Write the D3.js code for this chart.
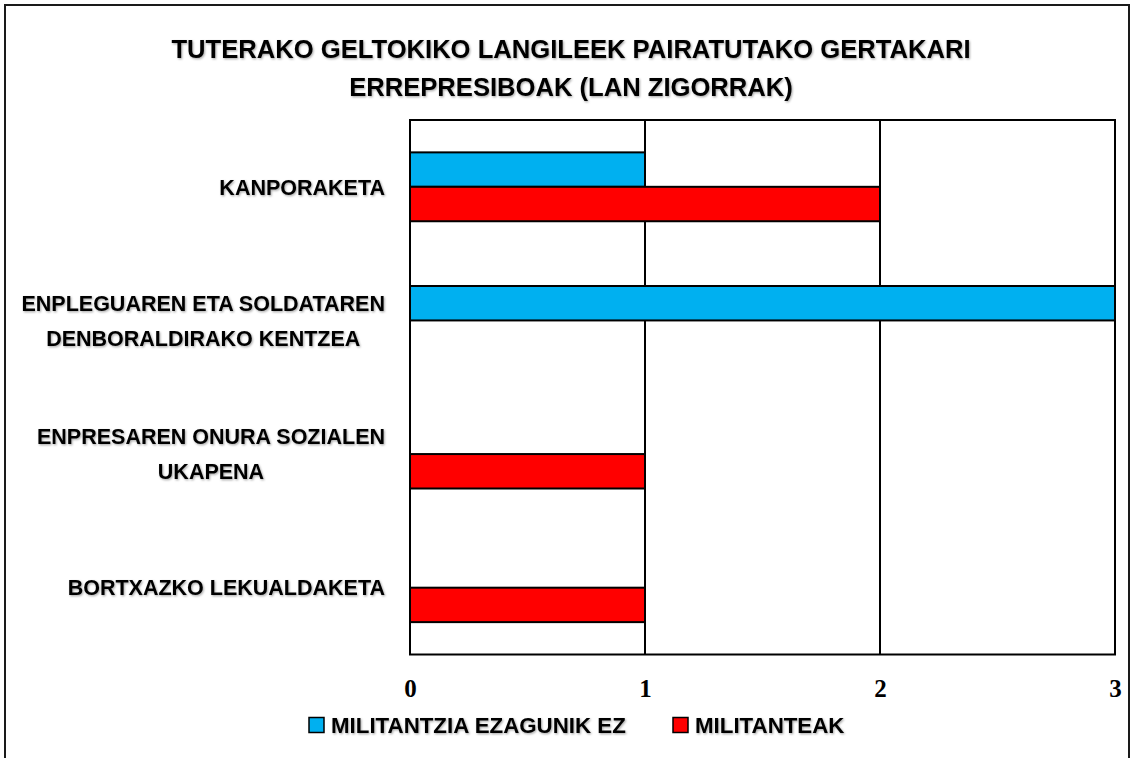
<!DOCTYPE html>
<html>
<head>
<meta charset="utf-8">
<script src="https://cdn.jsdelivr.net/npm/d3@7"></script>
<style>
  body { margin: 0; background: #fff; }
  svg { display: block; }
</style>
</head>
<body>
<div id="chart-wrapper"></div>
<script>
// data
var categories = ['KANPORAKETA',
                  'ENPLEGUAREN ETA SOLDATAREN DENBORALDIRAKO KENTZEA',
                  'ENPRESAREN ONURA SOZIALEN UKAPENA',
                  'BORTXAZKO LEKUALDAKETA'];
// how each category label is broken into lines
var category_lines = [['KANPORAKETA'],
                      ['ENPLEGUAREN ETA SOLDATAREN', 'DENBORALDIRAKO KENTZEA'],
                      ['ENPRESAREN ONURA SOZIALEN', 'UKAPENA'],
                      ['BORTXAZKO LEKUALDAKETA']];
var series_names = ['MILITANTZIA EZAGUNIK EZ', 'MILITANTEAK'];
var series_colors = ['#00b0f0', '#ff0000'];
var values_unknown = [1, 3, 0, 0];   // MILITANTZIA EZAGUNIK EZ
var values_militant = [2, 0, 1, 1];  // MILITANTEAK
var tick_values = [0, 1, 2, 3];
var title_lines = ['TUTERAKO GELTOKIKO LANGILEEK PAIRATUTAKO GERTAKARI',
                   'ERREPRESIBOAK (LAN ZIGORRAK)'];

var total_width = 1134;
var total_height = 758;
var plot = {left: 410, right: 1115, top: 120, bottom: 654.5};
var sans = '"Liberation Sans", Arial, sans-serif';
var serif = '"Liberation Serif", "Times New Roman", serif';

var svg = d3.select('#chart-wrapper').append('svg')
    .attr('width', total_width)
    .attr('height', total_height);

// soft shadow behind the texts
svg.append('defs').append('filter')
    .attr('id', 'shadow')
    .attr('x', '-5%').attr('y', '-20%')
    .attr('width', '110%').attr('height', '150%')
  .append('feDropShadow')
    .attr('dx', 1).attr('dy', 1.2)
    .attr('stdDeviation', 0.8)
    .attr('flood-color', '#000')
    .attr('flood-opacity', 0.35);

// outer frame (bottom edge lies below the window)
svg.append('rect')
    .attr('x', 5).attr('y', 5)
    .attr('width', 1124).attr('height', 780)
    .attr('fill', 'none')
    .attr('stroke', '#1a1a1a')
    .attr('stroke-width', 2);

// title
svg.append('g')
    .attr('filter', 'url(#shadow)')
  .selectAll('text')
    .data(title_lines)
    .enter()
  .append('text')
    .attr('x', 571)
    .attr('y', function(d, i) { return 58 + i * 38; })
    .attr('text-anchor', 'middle')
    .style('font-family', sans)
    .style('font-weight', 'bold')
    .style('font-size', '25.6px')
    .text(function(d) { return d; });

var rows = categories.map(function(c, i) {
    return {category: c, values: [values_unknown[i], values_militant[i]]};
});

var scale_x = d3.scaleLinear()
    .domain([0, 3])
    .range([plot.left, plot.right]);

var scale_y = d3.scaleBand()
    .domain(categories)
    .range([plot.top, plot.bottom])
    .padding(0);

var scale_series = d3.scaleBand()
    .domain(d3.range(series_names.length))
    .range([0, scale_y.bandwidth()])
    .paddingInner(0)
    .paddingOuter(0.94);

// plot area background
svg.append('rect')
    .attr('x', plot.left).attr('y', plot.top)
    .attr('width', plot.right - plot.left)
    .attr('height', plot.bottom - plot.top)
    .attr('fill', '#fff');

// vertical gridlines
svg.append('g')
    .selectAll('line')
    .data(tick_values.slice(1, -1))
    .enter()
  .append('line')
    .attr('x1', function(d) { return scale_x(d); })
    .attr('x2', function(d) { return scale_x(d); })
    .attr('y1', plot.top)
    .attr('y2', plot.bottom)
    .attr('stroke', '#000')
    .attr('stroke-width', 2);

// bars
var groups = svg.append('g')
    .selectAll('g')
    .data(rows)
    .enter()
  .append('g')
    .attr('transform', function(d) {
        return 'translate(0,' + scale_y(d.category) + ')';
    });

groups.selectAll('rect')
    .data(function(d) {
        return d.values.map(function(v, j) { return {value: v, s: j}; })
            .filter(function(e) { return e.value > 0; });
    })
    .enter()
  .append('rect')
    .attr('x', scale_x(0))
    .attr('y', function(d) { return scale_series(d.s); })
    .attr('width', function(d) { return scale_x(d.value) - scale_x(0); })
    .attr('height', scale_series.bandwidth())
    .attr('fill', function(d) { return series_colors[d.s]; })
    .attr('stroke', '#000')
    .attr('stroke-width', 2);

// plot area border
svg.append('rect')
    .attr('x', plot.left).attr('y', plot.top)
    .attr('width', plot.right - plot.left)
    .attr('height', plot.bottom - plot.top)
    .attr('fill', 'none')
    .attr('stroke', '#000')
    .attr('stroke-width', 2);

// x axis labels
var axis_x = d3.axisBottom(scale_x)
    .tickValues(tick_values)
    .tickFormat(d3.format('d'))
    .tickSize(0)
    .tickPadding(0);
var axis_g = svg.append('g')
    .attr('transform', 'translate(0,' + 697 + ')')
    .call(axis_x);
axis_g.select('.domain').remove();
axis_g.selectAll('text')
    .attr('y', 0)
    .attr('dy', 0)
    .style('font-family', serif)
    .style('font-weight', 'bold')
    .style('font-size', '25px')
    .attr('fill', '#000');

// category labels: lines centred on each other, block right-aligned
var label_right = 385;
var line_height = 35;
var label_groups = svg.append('g')
    .attr('filter', 'url(#shadow)')
    .selectAll('g')
    .data(categories)
    .enter()
  .append('g');

label_groups.each(function(c, i) {
    var g = d3.select(this);
    var lines = category_lines[i];
    var center = scale_y(c) + scale_y.bandwidth() / 2;
    var texts = g.selectAll('text')
        .data(lines)
        .enter()
      .append('text')
        .attr('text-anchor', 'middle')
        .attr('y', function(d, k) {
            return center + (k - (lines.length - 1) / 2) * line_height + 7.8;
        })
        .style('font-family', sans)
        .style('font-weight', 'bold')
        .style('font-size', '21.5px')
        .text(function(d) { return d; });
    var max_w = 0;
    texts.each(function() { max_w = Math.max(max_w, this.getComputedTextLength()); });
    texts.attr('x', label_right - max_w / 2);
});

// legend
var legend_x = [309, 673];
var legend = svg.append('g')
    .selectAll('g')
    .data(series_names)
    .enter()
  .append('g')
    .attr('transform', function(d, i) {
        return 'translate(' + legend_x[i] + ',' + 725 + ')';
    });
legend.append('rect')
    .attr('x', 0).attr('y', -7.5)
    .attr('width', 15).attr('height', 15)
    .attr('fill', function(d, i) { return series_colors[i]; })
    .attr('stroke', '#000')
    .attr('stroke-width', 1.5);
legend.append('text')
    .attr('x', 22)
    .attr('y', 8)
    .attr('filter', 'url(#shadow)')
    .style('font-family', sans)
    .style('font-weight', 'bold')
    .style('font-size', '22.3px')
    .text(function(d) { return d; });
</script>
</body>
</html>
